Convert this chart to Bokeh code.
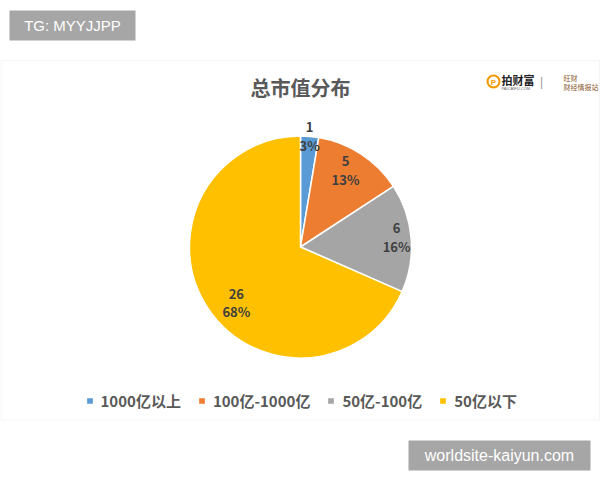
import math
from bokeh.plotting import figure
from bokeh.models import Range1d, Legend, LegendItem, Label, BoxAnnotation, ColumnDataSource
from bokeh.core.properties import value
from bokeh.embed import file_html
from bokeh.resources import INLINE

# ---- data ----
title_text = "总市值分布"
categories = ["1000亿以上", "100亿-1000亿", "50亿-100亿", "50亿以下"]
counts = [1, 5, 6, 26]
colors = ["#5B9BD5", "#ED7D31", "#A5A5A5", "#FFC000"]

# ---- layout / style ----
W, H = 600, 480
def Y(py):
    return H - py

FONT = "Noto Sans CJK SC"
CX, CY, R = 300, Y(246.5), 111
label_rf = [1.0, 0.80, 0.87, 0.765]      # label radius factor
label_da = [0.0, 2.7, 1.0, 7.8]           # label angle tweak (deg)

total = sum(counts)
starts, ends, lx, ly1, ly2, top_t, bot_t = [], [], [], [], [], [], []
cum = 0
for i, c in enumerate(counts):
    a0 = math.pi / 2 - 2 * math.pi * cum / total
    cum += c
    a1 = math.pi / 2 - 2 * math.pi * cum / total
    starts.append(a0)
    ends.append(a1)
    mid = (a0 + a1) / 2 + math.radians(label_da[i])
    r = R * label_rf[i]
    x = CX + r * math.cos(mid)
    y = CY + r * math.sin(mid)
    lx.append(x)
    ly1.append(y + 9)
    ly2.append(y - 9)
    top_t.append(str(c))
    bot_t.append(f"{round(100 * c / total)}%")

src = ColumnDataSource(dict(start=starts, end=ends, color=colors, cat=categories))
lsrc = ColumnDataSource(dict(x=lx, y1=ly1, y2=ly2, t1=top_t, t2=bot_t))

p = figure(width=W, height=H, x_range=Range1d(0, W), y_range=Range1d(0, H),
           output_backend="svg", toolbar_location=None, x_axis_type=None, y_axis_type=None,
           min_border=0, outline_line_color=None, background_fill_color="white",
           border_fill_color="white")
p.grid.visible = False

# chart frame
p.add_layout(BoxAnnotation(left=0.5, right=599, top=Y(60), bottom=Y(419.5), fill_alpha=0,
                           line_color="#d9d9d9", line_width=1))

# watermark boxes
p.add_layout(BoxAnnotation(left=9, right=135, top=Y(10), bottom=Y(40), fill_color="#a6a6a6",
                           fill_alpha=1, line_alpha=0))
p.add_layout(Label(x=72, y=Y(25), text="TG: MYYJJPP", text_align="center", text_baseline="middle",
                   text_color="white", text_font_size="15px", text_font="Liberation Sans"))
p.add_layout(BoxAnnotation(left=408, right=590, top=Y(440), bottom=Y(470), fill_color="#a6a6a6",
                           fill_alpha=1, line_alpha=0))
p.add_layout(Label(x=499, y=Y(455), text="worldsite-kaiyun.com", text_align="center",
                   text_baseline="middle", text_color="white", text_font_size="16px",
                   text_font="Liberation Sans"))

# title
p.add_layout(Label(x=300, y=Y(87), text=title_text, text_align="center", text_baseline="middle",
                   text_font=FONT, text_font_size="20px", text_font_style="bold",
                   text_color="#595959"))

# logo (approximation)
p.scatter(x=[493], y=[Y(81)], size=12, marker="circle", fill_color="white",
          line_color="#F39800", line_width=2)
p.add_layout(Label(x=493, y=Y(81.5), text="P", text_align="center", text_baseline="middle",
                   text_font="Liberation Sans", text_font_size="8px", text_font_style="bold",
                   text_color="#F39800"))
p.add_layout(Label(x=501, y=Y(79), text="拍财富", text_align="left", text_baseline="middle",
                   text_font=FONT, text_font_size="11px", text_font_style="bold",
                   text_color="#222222"))
p.add_layout(Label(x=501, y=Y(88), text="PAICAIFU.COM", text_align="left", text_baseline="middle",
                   text_font="Liberation Sans", text_font_size="4px", text_color="#666666"))
p.add_layout(Label(x=541, y=Y(81), text="|", text_align="center", text_baseline="middle",
                   text_font="Liberation Sans", text_font_size="12px", text_color="#999999"))
p.add_layout(Label(x=563, y=Y(77), text="旺财", text_align="left", text_baseline="middle",
                   text_font=FONT, text_font_size="7px", text_color="#8B5A2B"))
p.add_layout(Label(x=563, y=Y(86), text="财经情报站", text_align="left", text_baseline="middle",
                   text_font=FONT, text_font_size="7px", text_color="#8B5A2B"))

# pie
r = p.wedge(x=CX, y=CY, radius=R, start_angle="start", end_angle="end", direction="clock",
            fill_color="color", line_color="white", line_width=1.5, source=src)

# labels
p.text(x="x", y="y1", text="t1", source=lsrc, text_align="center", text_baseline="middle",
       text_font=value(FONT), text_font_size="13px", text_font_style="bold", text_color="#404040")
p.text(x="x", y="y2", text="t2", source=lsrc, text_align="center", text_baseline="middle",
       text_font=value(FONT), text_font_size="13px", text_font_style="bold", text_color="#404040")

# legend
legend = Legend(items=[LegendItem(label=c, renderers=[r], index=i) for i, c in enumerate(categories)],
                orientation="horizontal", location=(84.5, 69), padding=0, margin=0, spacing=16,
                glyph_width=9, glyph_height=9, label_standoff=7, label_height=14,
                label_text_font=FONT, label_text_font_size="15px", label_text_font_style="bold",
                label_text_color="#595959", border_line_alpha=0, background_fill_alpha=0)
p.add_layout(legend)

open("out.html", "w").write(file_html(p, INLINE))
